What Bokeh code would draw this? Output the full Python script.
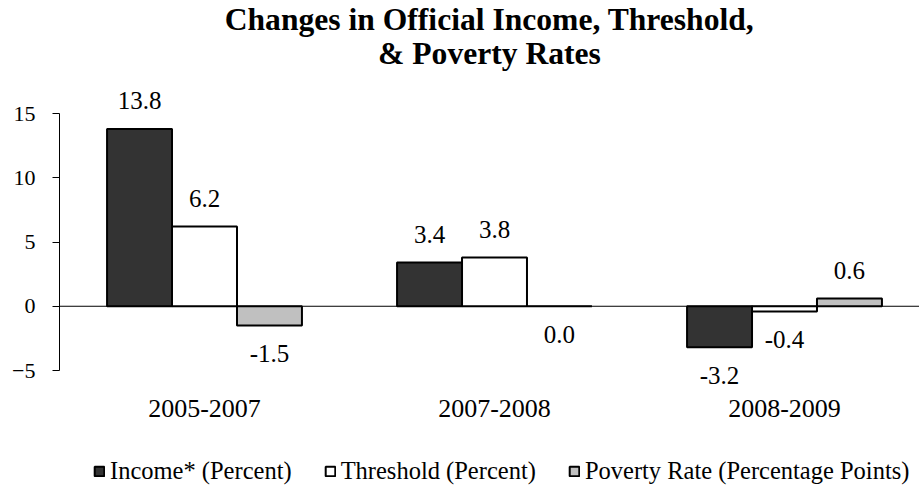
from bokeh.plotting import figure
from bokeh.models import (ColumnDataSource, Range1d, FixedTicker, Span, Legend,
                          LegendItem, Title)
from bokeh.embed import file_html
from bokeh.resources import INLINE
from bokeh.core.properties import value

# ---- data -------------------------------------------------------------
periods = ["2005-2007", "2007-2008", "2008-2009"]
series_names = ["Income* (Percent)", "Threshold (Percent)",
                "Poverty Rate (Percentage Points)"]
income = [13.8, 3.4, -3.2]
threshold = [6.2, 3.8, -0.4]
poverty = [-1.5, 0.0, 0.6]
series_values = [income, threshold, poverty]
series_colors = ["#333333", "#ffffff", "#c0c0c0"]
y_ticks = [-5, 0, 5, 10, 15]
title_lines = ["Changes in Official Income, Threshold,", "& Poverty Rates"]

# ---- layout constants ---------------------------------------------------
FONT = "Liberation Serif"
BAR_W = 0.224                      # bar width in group units
offsets = [-BAR_W, 0.0, BAR_W]
Y_MIN, Y_MAX = y_ticks[0], y_ticks[-1]
PX = 257 / (Y_MAX - Y_MIN)         # pixels per value unit on the y axis
TOP_PAD, BOTTOM_PAD = 33, 123      # room above 15 and below -5, in pixels

p = figure(width=919, height=493, output_backend="svg", toolbar_location=None,
           title=None, x_axis_location=None,
           x_range=Range1d(0, 860 / 290),
           y_range=Range1d(Y_MIN - BOTTOM_PAD / PX, Y_MAX + TOP_PAD / PX),
           min_border_left=59, min_border_right=0,
           min_border_top=80, min_border_bottom=0)
p.background_fill_color = "white"
p.border_fill_color = "white"
p.outline_line_color = None
p.xgrid.visible = False
p.ygrid.visible = False

# two-line bold title, each line centred; the lower line goes in first
for line, standoff in zip(reversed(title_lines), [19, -24]):
    p.add_layout(Title(text=line, align="center", offset=-3, text_font=FONT,
                       text_font_size="31.6px", text_font_style="bold",
                       text_color="black", standoff=standoff), "above")

# y axis, drawn only over the value span
p.yaxis.bounds = (Y_MIN, Y_MAX)
p.yaxis.ticker = FixedTicker(ticks=y_ticks)
p.yaxis.major_tick_out = 7
p.yaxis.major_tick_in = 0
p.yaxis.minor_tick_line_color = None
p.yaxis.axis_line_color = "black"
p.yaxis.major_tick_line_color = "black"
p.yaxis.major_label_text_font = FONT
p.yaxis.major_label_text_font_size = "22px"
p.yaxis.major_label_text_color = "black"
p.yaxis.major_label_standoff = 17

# zero line
p.add_layout(Span(location=0, dimension="width", line_color="black",
                  line_width=1, level="underlay"))

# ---- bars and value labels --------------------------------------------
centers = [i + 0.5 for i in range(len(periods))]
legend_items = []
for name, vals, color, off in zip(series_names, series_values, series_colors, offsets):
    src = ColumnDataSource(dict(
        x=[c + off for c in centers],
        top=vals,
        label=["%.1f" % v for v in vals],
        yoff=[-28 if v > 0 else 28 for v in vals],
    ))
    r = p.vbar(x="x", top="top", bottom=0, width=BAR_W, source=src,
               fill_color=color, line_color="black", line_width=2)
    p.text(x="x", y="top", text="label", source=src, y_offset="yoff",
           text_align="center", text_baseline="middle",
           text_font=value(FONT), text_font_size="25px", text_color="black")
    legend_items.append(LegendItem(label=name, renderers=[r]))

# period names under each group, hung from the bottom of the value axis
cat_src = ColumnDataSource(dict(x=centers, y=[Y_MIN] * len(periods), name=periods))
p.text(x="x", y="y", text="name", source=cat_src, y_offset=38,
       text_align="center", text_baseline="middle",
       text_font=value(FONT), text_font_size="26px", text_color="black")

# legend along the bottom edge
legend = Legend(items=legend_items, orientation="horizontal", location=(34, 8),
                glyph_width=12, glyph_height=12, label_standoff=5, spacing=32,
                padding=0, margin=0, border_line_color=None,
                background_fill_alpha=0, label_text_font=FONT,
                label_text_font_size="24.5px", label_text_color="black")
p.add_layout(legend, "center")

open("out.html", "w").write(file_html(p, INLINE))
